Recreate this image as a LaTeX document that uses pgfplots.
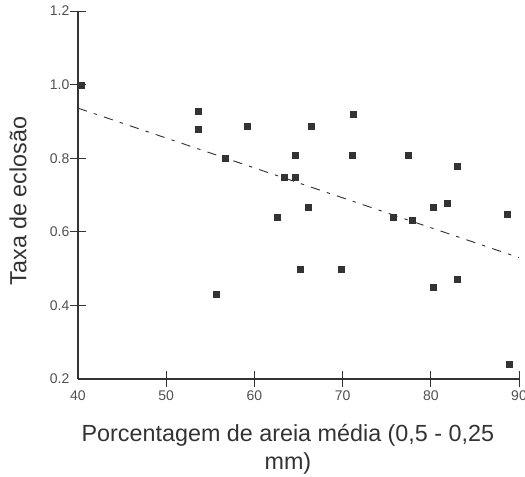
\documentclass[border=0pt]{standalone}
\usepackage{pgfplots}
\pgfplotsset{compat=1.18}
\usepackage{fontspec}
\setmainfont{Liberation Sans}
\definecolor{ink}{HTML}{333333}
\definecolor{ticktext}{HTML}{505050}
\begin{document}
\begin{tikzpicture}
\begin{axis}[
  at={(0,0)}, anchor=south west,
  scale only axis, width=330.75pt, height=276pt,
  xmin=40, xmax=90, ymin=0.2, ymax=1.2,
  axis x line*=bottom, axis y line*=left,
  axis line style={ink, line width=0.8pt, -},
  xtick={50,60,70,80,90}, xticklabels={50,60,70,80,90},
  extra x ticks={40}, extra x tick labels={40},
  extra x tick style={tick style={draw=none}},
  ytick={0.4,0.6,0.8,1.0,1.2}, yticklabels={0.4,0.6,0.8,1.0,1.2},
  extra y ticks={0.2}, extra y tick labels={0.2},
  extra y tick style={tick style={draw=none}},
  tick align=center, major tick length=12pt,
  tick style={ink, line width=0.75pt},
  /pgf/number format/assume math mode=true,
  ticklabel style={font=\fontsize{10.5}{12}\selectfont, text=ticktext},
  yticklabel style={xshift=3pt},
  xticklabel style={yshift=0.5pt},
  xlabel={Porcentagem de areia média (0,5 - 0,25\\mm)},
  xlabel style={align=center, font=\fontsize{17.5}{21}\selectfont, text=ink,
    at={(axis description cs:0.476,-0.190)}, anchor=center},
  ylabel={Taxa de eclosão},
  ylabel style={font=\fontsize{17.5}{20}\selectfont, text=ink,
    at={(axis description cs:-0.136,0.484)}, anchor=center},
  clip=false,
]
\addplot[only marks, mark=square*, mark size=2.25pt, ink, mark options={fill=ink, draw=ink}]
coordinates {
(40.4,0.997) (53.6,0.928) (53.6,0.879) (55.7,0.429) (56.7,0.799)
(59.2,0.887) (62.6,0.639) (63.4,0.748) (64.6,0.808) (64.6,0.748)
(65.25,0.499) (66.1,0.668) (66.4,0.887) (69.9,0.499) (71.1,0.808)
(71.2,0.919) (75.75,0.639) (77.5,0.808) (77.9,0.630) (80.25,0.668)
(80.25,0.450) (81.9,0.677) (83.0,0.779) (83.0,0.470) (88.7,0.648)
(88.9,0.239)
};
\addplot[no marks, color=ink, line width=0.7pt, dash pattern=on 7pt off 5.5pt on 2.5pt off 5.5pt]
coordinates {(40,0.936) (90,0.530)};
\end{axis}
\pgfresetboundingbox
\path[use as bounding box] (-58.5pt,-72.75pt) rectangle (335.25pt,284.25pt);
\end{tikzpicture}
\end{document}
